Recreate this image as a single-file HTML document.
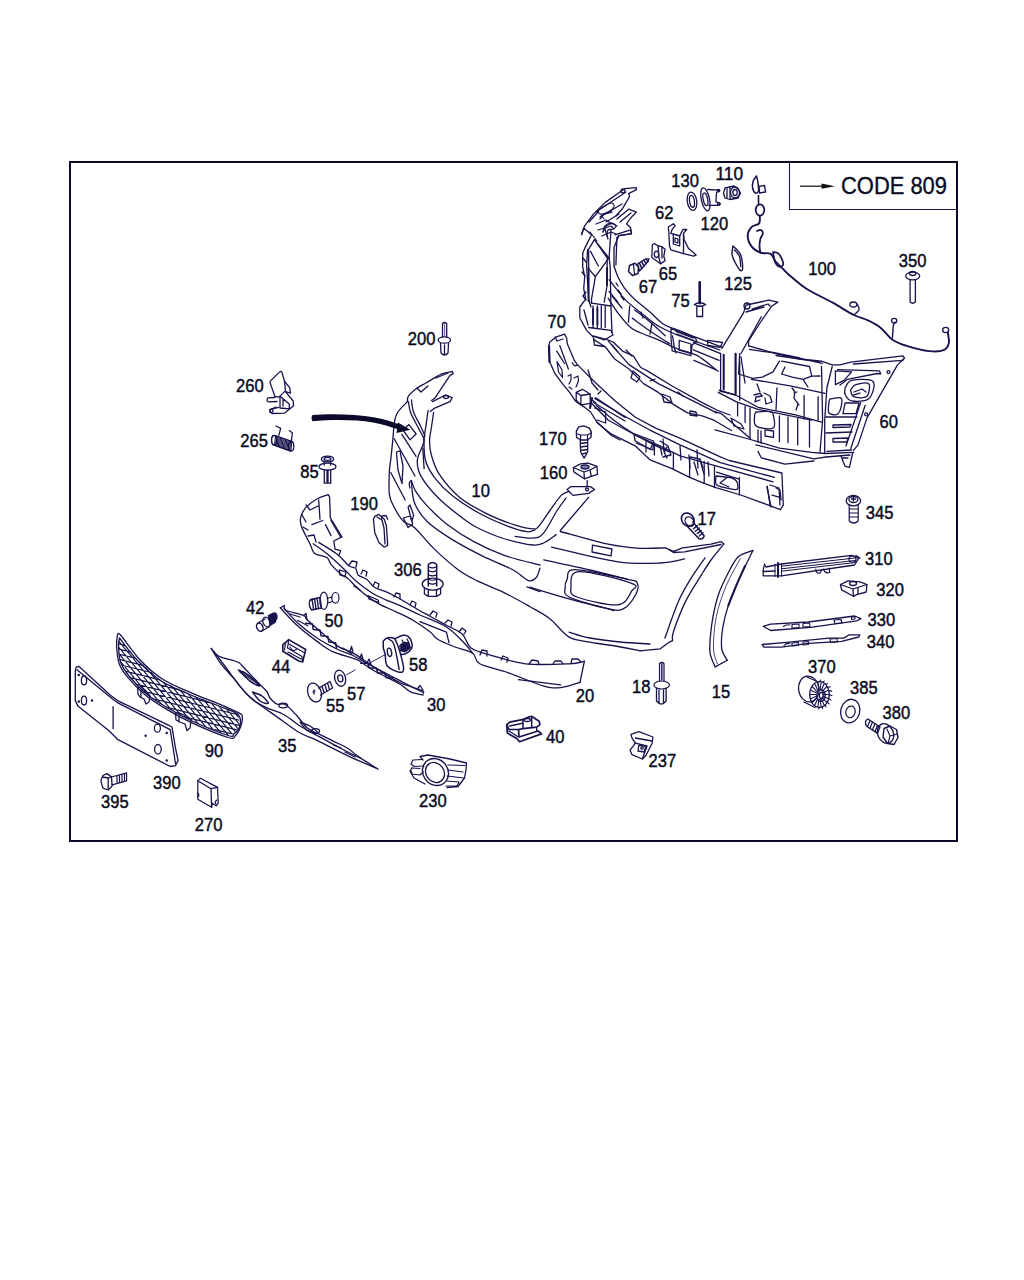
<!DOCTYPE html>
<html><head><meta charset="utf-8"><style>
html,body{margin:0;padding:0;background:#fff;width:1024px;height:1280px;overflow:hidden}
svg{position:absolute;left:0;top:0}
</style></head><body>
<svg width="1024" height="1280" viewBox="0 0 1024 1280">
<rect x="70" y="162" width="887" height="679" fill="none" stroke="#0c0a2a" stroke-width="2"/>
<path d="M789.5 162 V209.5 H957" fill="none" stroke="#1a1850" stroke-width="1.1"/>
<path d="M800 186.2 H826" stroke="#111" stroke-width="1.2"/>
<path d="M821.5 183.6 L835 186.2 L821.5 188.8 Z" fill="#111"/>
<text x="841" y="194" font-family="Liberation Sans" font-size="23.5" fill="#0a0a22" stroke="#0a0a22" stroke-width="0.35" textLength="106" lengthAdjust="spacingAndGlyphs">CODE 809</text>
<g fill="none" stroke="#17134c" stroke-width="1.3" stroke-linejoin="round" stroke-linecap="round">
<!-- bumper 10 -->
<path d="M407.4,401.6 C407.6,400.7 406.8,398.4 408.4,396.1 C410.0,393.8 414.3,390.1 417.2,387.9 C420.1,385.7 422.0,385.3 426.0,383.0 C430.0,380.7 436.9,376.1 441.3,374.2 C445.7,372.3 450.4,371.9 452.2,371.5"/>
<path d="M452.2,371.5 L453.3,373.7 L450,375.3 L434.7,398.3 L431.4,400.5"/>
<path d="M417,388 L421,392 L428,386 M436,378 L448,373"/>
<path d="M432.5,401.6 L445.6,395 L452.2,397.7 L450,401.6 L434.7,408.1 L430.3,411.4"/>
<ellipse cx="446" cy="397" rx="2.5" ry="1.5"/>
<path d="M407.4,401.6 C405.8,403.4 399.7,408.9 397.5,412.5 C395.3,416.1 394.9,419.5 394.2,423.5 C393.5,427.5 393.7,430.8 393.1,436.6 C392.6,442.4 391.5,452.7 390.9,458.5 C390.3,464.3 389.6,465.3 389.4,471.3 C389.1,477.3 388.6,488.7 389.4,494.7 C390.2,500.7 391.8,502.8 394.1,507.2 C396.4,511.6 400.0,517.9 403.4,521.3 C406.8,524.7 409.2,522.8 414.4,527.5 C419.6,532.2 427.4,542.4 434.7,549.4 C442.0,556.4 451.1,564.5 458.1,569.7 C465.1,574.9 469.1,576.7 476.9,580.6 C484.7,584.5 496.1,588.8 505.0,593.1 C513.9,597.5 522.6,602.5 530.0,606.7 C537.4,610.9 543.6,613.9 549.5,618.4 C555.4,622.9 560.6,630.4 565.2,634.0 C569.8,637.6 568.1,637.8 576.9,639.9 C585.7,642.0 607.4,644.7 617.9,646.5 C628.4,648.3 636.3,650.1 640.0,650.8"/>
<path d="M569.1,632.1 C572.6,633.1 581.5,636.4 590.0,638.0 C598.5,639.6 610.0,641.0 620.0,642.0 C630.0,643.0 645.0,643.7 650.0,644.0"/>
<path d="M408.4,401.6 C408.8,403.4 409.0,408.1 410.6,412.5 C412.2,416.9 416.1,423.4 418.3,427.8 C420.5,432.2 423.1,435.9 423.8,438.8 C424.6,441.8 423.0,444.4 422.8,445.5"/>
<path d="M411.5,400.0 C411.8,402.0 411.9,407.5 413.5,412.0 C415.1,416.5 419.1,423.0 421.0,427.0 C422.9,431.0 424.3,434.5 425.0,436.0"/>
<path d="M403,430 L409,424.6 L416.1,434 L410,439.9 Z"/>
<path d="M401.9,434.4 L416.1,456.3 M394.2,438.8 L415,476 M390.9,472.7 L405.2,500"/>
<path d="M396.4,452 L400,450.8 L403,466 L402,483.6 L398,470 Z"/>
<path d="M422.8,448.2 L424.1,468.7"/>
<path d="M433.6,412.5 C433.2,415.4 431.7,425.4 431.0,430.0 C430.3,434.6 429.6,436.1 429.6,440.0 C429.6,443.9 429.4,448.0 431.0,453.7 C432.6,459.4 434.4,466.9 439.2,474.2 C444.0,481.5 451.7,490.8 459.7,497.4 C467.7,504.0 477.9,509.2 487.0,513.8 C496.1,518.4 506.8,522.3 514.4,524.8 C522.0,527.3 528.7,528.5 532.7,528.8 C536.7,529.1 535.7,529.5 538.6,526.4 C541.5,523.3 546.5,515.2 550.3,510.0 C554.1,504.8 558.1,498.5 561.2,495.4 C564.3,492.3 567.8,492.1 569.1,491.5"/>
<path d="M428.1,410.3 C427.8,412.9 426.7,420.7 426.0,425.6 C425.3,430.6 424.2,434.2 424.1,440.0 C424.0,445.8 423.7,454.1 425.5,460.5 C427.3,466.9 430.6,472.4 435.1,478.3 C439.7,484.2 445.3,490.1 452.8,496.0 C460.3,501.9 471.1,508.8 480.2,513.8 C489.3,518.8 499.7,523.1 507.5,526.1 C515.3,529.1 522.3,531.1 526.9,531.7 C531.5,532.3 533.7,530.2 535.1,529.9"/>
<path d="M515.2,536.4 C518.1,536.7 528.0,538.6 532.7,538.1 C537.4,537.6 539.2,538.1 543.3,533.4 C547.4,528.7 553.6,515.9 557.4,510.0 C561.2,504.1 564.6,500.0 566.0,498.0"/>
<path d="M422.8,445.5 C421.9,448.0 417.5,455.3 417.3,460.5 C417.1,465.7 417.8,470.5 421.4,476.9 C425.0,483.3 431.7,491.4 439.2,498.8 C446.7,506.2 459.7,516.0 466.5,521.0 C473.3,526.0 473.9,526.1 480.0,529.0 C486.1,531.9 494.6,535.8 503.4,538.5 C512.2,541.2 525.9,544.3 532.7,545.0 C539.6,545.7 540.6,544.2 544.5,542.5 C548.4,540.8 554.2,535.9 556.2,534.6"/>
<path d="M567.1,489.5 L571,486.6 L590.5,486.6 L594.5,489.5 L588.6,493.4 L573,495.4 Z"/>
<circle cx="587" cy="489.5" r="1.5"/>
<path d="M588.6,497.3 L560.3,530.5"/>
<path d="M411.3,480.6 C411.8,484.2 411.8,495.7 414.4,502.5 C417.0,509.3 420.9,515.3 426.9,521.3 C432.9,527.3 441.2,532.7 450.3,538.4 C459.4,544.1 471.2,550.4 481.6,555.6 C492.0,560.8 505.0,565.5 512.8,569.7 C520.6,573.9 524.5,579.3 528.4,580.6 C532.3,581.9 534.4,579.6 536.3,577.5 C538.2,575.4 539.4,569.7 540.0,568.1"/>
<path d="M411.3,480.6 C412.1,482.4 413.3,487.4 415.9,491.6 C418.5,495.8 421.7,500.1 426.9,505.6 C432.1,511.1 439.4,518.4 447.2,524.4 C455.0,530.4 464.2,536.4 473.8,541.6 C483.4,546.8 494.0,551.7 505.0,555.6 C516.0,559.5 534.2,563.4 540.0,565.0"/>
<path d="M411.3,480.6 Q408,482 410,488"/>
<path d="M408.1,507.2 L410,505 L413.6,515 L412,521.3 Z M403.4,518 L410,516 L412.8,524 L408,527.5 Z"/>
<path d="M560.3,531.5 C568.3,533.6 594.8,541.4 608.1,544.2 C621.4,547.0 630.5,547.7 640.0,548.3 C649.5,548.9 661.2,547.9 665.4,547.8"/>
<path d="M665.4,547.8 L673.5,551.3 L682.6,547.8 L711,544.2 L721.2,541.7 L723.8,543.9 M665.4,547.8 L673.5,552.5 L684.7,551.8 L721,544.5"/>
<path d="M723.8,543.9 C721.7,546.6 714.8,554.7 711.0,560.0 C707.2,565.3 705.1,568.9 700.9,575.7 C696.7,582.6 690.3,591.8 685.7,601.1 C681.1,610.4 675.7,624.9 673.5,631.5 C671.3,638.1 672.7,639.1 672.5,640.6"/>
<path d="M672.5,640.6 L668.4,642.7 L660.3,648.8 L640,650.8"/>

<path d="M551.5,547.1 C562.6,549.5 599.8,559.1 617.9,561.8 C636.0,564.4 649.2,563.5 660.3,563.0 C671.4,562.5 680.6,559.6 684.7,558.9"/>
<path d="M705.0,557.9 C702.6,561.4 695.2,571.5 690.8,578.7 C686.4,585.9 682.9,591.2 678.6,601.1 C674.3,611.0 667.2,631.9 664.9,638.1"/>
<path d="M592.5,545.2 L612,549 L611,555.9 L592,552 Z"/>
<path d="M543.7,559.8 C551.4,561.5 576.0,566.7 590.0,570.0 C604.0,573.3 621.3,577.8 627.6,579.4"/>
<path d="M567.1,579.4 C568.7,576.5 564.8,569.6 574.9,569.6 C585.0,569.6 617.2,577.1 627.6,579.4 C638.0,581.7 636.1,580.7 637.4,583.3 C638.7,585.9 637.8,590.8 635.5,595.0 C633.2,599.2 628.3,606.4 623.7,608.7 C619.1,611.0 617.2,610.7 608.1,608.7 C599.0,606.8 576.2,600.6 569.1,597.0 C562.0,593.4 565.5,590.1 565.2,587.2 C564.9,584.3 565.5,582.3 567.1,579.4Z"/>
<path d="M571.0,587.2 C571.3,583.0 568.7,572.2 578.8,571.6 C588.9,571.0 622.8,580.0 631.6,583.3 C640.4,586.5 633.9,587.5 631.6,591.1 C629.3,594.7 627.0,603.8 617.9,604.8 C608.8,605.8 584.7,599.9 576.9,597.0 C569.1,594.1 570.7,591.4 571.0,587.2Z"/>
<path d="M530.0,587.2 C536.5,589.2 555.1,595.0 569.1,598.9 C583.1,602.8 606.5,608.6 614.0,610.6"/>
<path d="M526.9,586.9 L540,591.6"/>

<!-- strip 15 -->
<path d="M752.9,550.4 C750.4,551.5 742.2,553.3 738.1,557.0 C734.0,560.7 731.6,566.5 728.3,572.8 C725.0,579.1 720.9,587.4 718.4,594.7 C715.9,602.0 714.4,609.3 713.0,616.6 C711.6,623.9 710.7,632.3 710.2,638.5 C709.7,644.7 709.4,649.1 710.2,653.8 C711.0,658.5 714.4,664.7 715.2,666.9"/>
<path d="M715.2,666.9 L727.2,660.3"/>
<path d="M727.2,660.3 C726.3,658.3 722.4,653.8 721.7,648.3 C721.0,642.8 721.7,634.6 722.8,627.5 C723.9,620.4 725.9,612.9 728.3,605.6 C730.7,598.3 732.9,593.0 737.0,583.8 C741.1,574.6 750.2,556.0 752.9,550.4"/>
<path d="M740.3,558.6 C737.9,563.2 730.1,576.3 726.1,586.0 C722.1,595.7 718.4,606.2 716.3,616.6 C714.2,627.0 713.3,640.5 713.5,648.3 C713.7,656.1 716.7,661.0 717.3,663.6" stroke-width="0.8"/>
<path d="M728.3,605.6 C729.8,602.0 734.2,590.4 737.0,583.8 C739.8,577.2 743.7,569.0 745.0,566.0" stroke-width="2"/>
<!-- wire 100 -->
<path d="M756.5,176.0 C756.0,176.8 753.9,179.0 753.2,181.0 C752.6,183.0 752.2,186.0 752.6,188.0 C753.0,190.0 754.5,192.5 755.5,193.0 C756.5,193.5 758.1,192.7 758.5,191.0 C758.9,189.3 758.3,185.5 758.0,183.0 C757.7,180.5 756.8,177.2 756.5,176.0" stroke-width="1.5"/>
<path d="M759,186.5 L764.5,185.5 L765.5,192 L759.5,193 Z" stroke-width="1.4"/>
<path d="M758.5,195.5 L758.5,204.4" stroke-width="1.6"/>
<ellipse cx="760" cy="210" rx="4.3" ry="5.7" stroke-width="1.8"/>
<path d="M759.8,215.8 C759.7,217.1 760.5,221.5 759.1,223.4 C757.7,225.3 753.4,225.1 751.5,227.2 C749.6,229.3 747.7,232.9 747.7,236.1 C747.7,239.3 749.4,243.6 751.5,246.3 C753.6,249.1 757.2,251.3 760.4,252.6 C763.6,253.9 768.1,252.4 770.6,253.9 C773.1,255.4 773.7,259.2 775.6,261.5 C777.5,263.8 779.9,265.8 782.0,267.9 C784.1,270.0 784.2,270.7 788.3,274.2 C792.4,277.7 799.0,283.9 806.4,288.7 C813.8,293.4 824.8,298.3 832.7,302.7 C840.6,307.1 847.9,312.1 853.8,315.0 C859.7,317.9 863.5,318.2 867.9,320.3 C872.3,322.4 876.1,324.2 880.2,327.4 C884.3,330.6 888.1,336.6 892.5,339.7 C896.9,342.8 900.5,343.9 906.6,345.8 C912.8,347.7 923.2,350.4 929.4,351.1 C935.5,351.8 940.3,351.5 943.5,350.2 C946.7,348.9 948.1,346.1 948.8,343.2 C949.5,340.3 948.0,334.4 947.9,332.6" stroke-width="1.9"/>
<path d="M757.0,231.0 C757.7,230.8 760.0,229.5 761.0,230.0 C762.0,230.5 762.9,232.6 762.8,234.0 C762.7,235.4 760.9,236.7 760.4,238.7 C759.9,240.7 759.5,243.7 759.5,246.0 C759.5,248.3 760.2,251.5 760.4,252.6" stroke-width="1.8"/>
<path d="M773.1,252.0 C774.1,252.3 777.3,252.0 779.0,254.0 C780.7,256.0 783.3,261.9 783.3,264.0 C783.3,266.1 780.4,266.9 779.0,266.6 C777.6,266.3 776.0,264.4 775.0,262.0 C774.0,259.6 773.4,253.7 773.1,252.0" stroke-width="1.7"/>
<path d="M853.8,315.0 C854.7,314.1 858.5,311.6 859.1,309.8 C859.7,308.1 857.7,305.4 857.4,304.5" stroke-width="1.4"/>
<ellipse cx="853.4" cy="304.5" rx="3.5" ry="2.5"/>
<path d="M892.5,337.9 C892.6,335.8 893.0,328.2 893.4,325.6 C893.8,323.0 894.8,322.7 895.1,322.1" stroke-width="1.4"/>
<ellipse cx="894.2" cy="320.8" rx="2.6" ry="2.4"/>
<ellipse cx="945.7" cy="330" rx="3" ry="2.6"/>
<!-- bolt 350 -->
<ellipse cx="912.7" cy="276" rx="7" ry="3.9"/>
<ellipse cx="912.7" cy="273.5" rx="3.2" ry="2"/>
<path d="M910.1,279.9 V302 Q912.7,304.5 915.4,302 V279.9"/>
<!-- 130 washer -->
<ellipse cx="692" cy="201.3" rx="4.75" ry="9.2" transform="rotate(-8 692 201.3)"/>
<ellipse cx="692" cy="201.3" rx="2.4" ry="6" transform="rotate(-8 692 201.3)"/>
<!-- 120 -->
<ellipse cx="705.4" cy="199.3" rx="4.1" ry="11.7" transform="rotate(-12 705.4 199.3)"/>
<ellipse cx="705.4" cy="199.3" rx="2.2" ry="6.4" transform="rotate(-12 705.4 199.3)"/>
<path d="M707.6,189.5 L719,190.2 L716.5,192.7 L715.9,201.6 L720.3,203.5 L718.4,205.4 L708.9,205.4"/>
<circle cx="718.5" cy="190.6" r="1.3"/><circle cx="718.7" cy="204" r="1.3"/>
<!-- 110 sensor -->
<path d="M725,188 L734,186 L738,189 L740.5,193 L738,198 L730,199.5 L725,198 L723.5,193 Z"/>
<ellipse cx="735" cy="192.5" rx="4.5" ry="5.5"/>
<ellipse cx="735" cy="192.5" rx="2.2" ry="3"/>
<path d="M727,189 V198 M730,188 V199"/>
<!-- 62 bracket -->
<path d="M668.3,227 L673.3,223.8 L675.2,225.7 L672.1,229.5 L670.8,233.3 L679.7,235.9 L682.9,229.5 L686.7,229.5 L683.5,233.3 L684.1,239.7 L688.6,248.6 L696.2,254.9 L693.7,256.2 L683.5,253.7 L670.8,249.9 L669.5,246 L668.9,233.3 Z"/>
<path d="M673.3,234 L679.7,236 L679.7,246 L673.3,244 Z M675,238 L678,239 L678,243 L675,242 Z M683.5,233.3 L683.5,253.7"/>
<!-- 65 clip -->
<path d="M652.4,244.8 L654.3,243.5 L658.1,246 L661.9,246.7 L665.1,249.2 L663.8,256.2 L665.1,260.6 L660.6,263.8 L651.8,257.5 Z"/>
<ellipse cx="656.5" cy="254.3" rx="2.2" ry="3.2"/>
<path d="M658.1,246 L659,258 L660.6,263.8 M661.9,246.7 L662,258"/>
<!-- 67 screw -->
<path d="M629.5,265.5 L635,263.2 L638.5,267 L638,273.5 L632.5,275.5 L628.5,271.5 Z" stroke-width="1.5"/>
<path d="M633.5,264.5 L634.5,274.5" stroke-width="1.2"/>
<path d="M637.5,264 L646,258.8 L649,258.8 L648,261.5 L639.5,271 Z" stroke-width="1.3"/>
<path d="M639.3,262.8 L641.8,268.6 M641.6,261.4 L643.9,266.3 M643.9,260 L646,263.8 M646.2,259 L647.8,261.8" stroke-width="1.5"/>
<!-- 125 -->
<path d="M733.0,246.0 C734.3,247.5 739.1,251.1 740.7,254.9 C742.3,258.7 742.8,266.5 742.6,268.9 C742.4,271.3 741.1,271.6 739.4,269.5 C737.7,267.4 733.5,260.1 732.4,256.2 C731.3,252.3 732.9,247.7 733.0,246.0" stroke-width="1.4"/>
<path d="M734.5,250.0 C735.3,251.0 738.2,253.2 739.3,256.0 C740.3,258.8 740.5,264.8 740.8,266.5"/>
<!-- 75 rivet -->
<path d="M699.7,282.2 V303.2" stroke-width="2.6"/>
<path d="M694.3,304.5 Q700,301 705.7,304.5 Q700,308 694.3,304.5 Z M696.8,307 V316.5 H702.6 V307"/>

<!-- spoiler 20 -->
<path d="M328.3,494.6 C326.5,495.3 321.0,496.6 317.3,498.7 C313.6,500.8 309.1,503.9 306.4,506.9 C303.7,509.8 301.8,513.4 300.9,516.4 C300.0,519.4 300.2,521.6 300.9,524.6 C301.6,527.6 303.4,530.8 305.0,534.2 C306.6,537.6 308.9,541.9 310.5,545.1 C312.1,548.3 311.9,551.3 314.6,553.4 C317.3,555.5 324.2,555.7 326.9,557.5 C329.6,559.3 328.7,561.6 331.0,564.3 C333.3,567.0 337.9,571.6 340.6,573.9 C343.3,576.2 344.9,576.0 347.4,578.0 C349.9,580.0 352.4,583.2 355.6,586.2 C358.8,589.2 362.7,592.8 366.6,595.7 C370.5,598.7 373.9,601.2 378.9,603.9 C383.9,606.6 390.9,609.4 396.6,612.1 C402.3,614.8 407.4,616.9 413.0,620.3 C418.6,623.6 426.4,629.1 430.5,632.2 C434.6,635.4 433.5,636.7 437.6,639.2 C441.7,641.7 449.1,644.6 455.0,647.0 C460.9,649.4 468.6,650.5 472.7,653.3 C476.8,656.1 473.9,660.6 479.8,663.8 C485.7,667.0 497.3,668.9 507.9,672.6 C518.4,676.3 534.3,683.3 543.1,685.8 C551.9,688.3 554.5,688.2 560.6,687.6 C566.8,687.0 576.8,683.2 580.0,682.3"/>
<path d="M328.3,494.6 L329.6,497.3 L330.3,517.8 L341.9,536.9 L333.7,541 L335.1,549.2 L340.6,550.6 L339.2,554.7"/>
<path d="M318.7,542.4 C321.9,544.5 332.8,550.8 337.8,554.7 C342.8,558.6 345.8,563.4 348.8,565.7 C351.8,568.0 354.0,566.8 355.6,568.4 C357.2,570.0 356.5,573.4 358.3,575.2 C360.1,577.0 363.9,577.2 366.6,579.3 C369.4,581.3 371.6,585.5 374.8,587.5 C378.0,589.5 381.6,589.8 385.7,591.6 C389.8,593.4 394.8,596.0 399.4,598.5 C403.9,601.0 407.9,603.8 413.0,606.7 C418.1,609.7 424.4,613.1 430.0,616.2 C435.6,619.3 441.0,622.2 446.4,625.2 C451.8,628.2 458.1,630.2 462.2,634.0 C466.3,637.8 466.3,644.5 471.0,648.0 C475.7,651.5 481.2,652.4 490.3,655.0 C499.4,657.6 512.3,662.3 525.5,663.8 C538.7,665.3 559.6,664.2 569.4,663.8 C579.2,663.4 581.9,661.6 584.4,661.2"/>
<path d="M584.4,661.2 L580,682.3"/>
<path d="M313.2,543.8 C315.7,545.6 323.1,550.4 328.3,554.7 C333.6,559.0 340.1,565.5 344.7,569.8 C349.2,574.1 351.1,576.8 355.6,580.7 C360.2,584.6 367.0,589.8 372.0,593.0 C377.0,596.2 381.1,597.8 385.7,599.8 C390.3,601.8 393.7,602.8 399.4,605.3 C405.1,607.8 412.2,611.4 420.0,615.0 C427.8,618.6 439.1,622.4 446.4,627.0 C453.7,631.6 459.5,638.3 463.9,642.7 C468.3,647.1 471.2,651.5 472.7,653.3"/>
<path d="M420,621.6 L446.4,632.2 M446.4,632.2 L449,642.7 M518.4,679.7 L560.6,684.9"/>
<path d="M318.7,500 L320,519.2 M311.9,524.6 L322.8,520.5 M325.5,524.6 L331,535.6 M331,520.5 L340.6,537 M306,505 L310,510 L318,506 M302,515 L306,522 M303,527 L308,530 M308,536 L314,535 L316,542"/>
<path d="M349,565 L352,561 L357,562 L356,567 M361,574 L363,570 L367,572 L366,576 M373,586 L375,582 L379,584 L378,588 M394,597 L396,593 L400,594 L400,599 M410,605 L412,601 L416,603 L415,607 M430,615 L433,611 L437,613 L436,617 M445,623 L448,620 L452,622 L451,626 M459,632 L462,628 L466,631 L464,634"/>
<path d="M480,655 L482,650 L487,651 L487,656 M501,660 L503,656 L508,658 L507,662 M529,664 L532,660 L538,661 L539,664 M553,664 L555,661 L561,661 L563,664 M571,663 L572,659 L578,659 L581,662"/>
<path d="M339.2,569.8 L346,572 L345,576.6 L340,575 Z M367.9,595.7 L378,600 L378.9,602.6 L369,599 Z M354,586 L360,590"/>
<!-- cover 190 -->
<path d="M374.8,516.4 L378.9,514.4 L384.3,519.2 L386.4,526 L387.7,545.1 L384.3,547.2 L378.9,542.4 L374.8,532.8 L373.4,519.2 Z"/>
<path d="M377,517 L382,520 L384,528 L385,544 M381.6,519 L382,515.8 L386,515.5 L387.7,519.2"/>

<!-- strip 30 -->
<path d="M280.3,607.8 C283.2,610.8 291.4,620.2 297.5,625.8 C303.6,631.4 311.2,637.1 317.1,641.4 C323.0,645.7 326.2,648.6 332.7,651.6 C339.2,654.6 350.9,657.3 356.1,659.4 C361.3,661.5 360.4,661.9 363.8,664.0 C367.2,666.1 370.3,668.7 376.3,672.0 C382.3,675.3 394.0,680.7 399.7,684.0 C405.4,687.3 406.7,690.1 410.6,691.9 C414.5,693.7 421.0,694.5 423.1,695.0"/>
<path d="M284.3,608.6 C286.6,611.1 292.6,618.3 298.3,623.4 C304.0,628.5 311.8,634.6 318.6,639.0 C325.4,643.4 333.3,647.3 338.9,650.0 C344.5,652.7 346.8,652.5 352.0,655.0 C357.2,657.5 362.8,661.2 370.0,665.0 C377.2,668.8 387.5,674.1 395.0,678.0 C402.5,681.9 410.5,686.2 415.0,688.5 C419.5,690.8 420.8,691.4 422.0,692.0"/>
<path d="M284.3,605.5 C284.6,606.3 282.6,608.5 285.8,610.2 C289.1,611.9 300.3,614.1 303.8,615.6 C307.3,617.1 303.9,616.6 306.9,619.5 C309.9,622.4 316.5,628.2 321.8,632.8 C327.1,637.4 334.1,643.8 338.9,646.9 C343.7,650.0 346.5,649.4 350.7,651.6 C354.9,653.8 359.5,657.2 363.8,660.0 C368.1,662.8 370.3,664.6 376.3,668.4 C382.3,672.1 392.1,678.9 399.7,682.5 C407.2,686.1 417.7,688.5 421.6,690.3 C425.5,692.1 422.9,692.9 423.1,693.4"/>
<path d="M280.3,607.8 L284.3,605.5 M303.8,615.6 L306.1,613.5 L306.9,619.5 M350,652 L351.5,646.5 L353,652 M360,658 L361.5,654 L363,659.5 M367,663 L369,659 L371,664.5 M418,688 L420,685.5 L423,690"/>
<path d="M305.5,623.2 L312.4,623.9 L313.2,629.5 L320.1,630.2 L321.0,635.7 L327.9,636.4 L328.8,642.0 L335.6,642.7 L336.5,648.2" stroke-width="1.5"/>
<path d="M360.7,663.2 L367.6,663.2 L369.3,668.1 L376.2,668.1 L377.8,672.9 L384.7,672.9 L386.4,677.8 L393.3,677.8" stroke-width="1.5"/>
<path d="M297.5,620.3 L307.7,625.8 M290,614 L300,617 M343,648 L352,654" stroke-width="1.2"/>
<!-- strip 35 -->
<path d="M211.2,648.4 C212.4,649.6 213.8,653.5 218.2,655.8 C222.6,658.1 233.6,660.4 237.5,662.0 C241.4,663.6 238.5,662.1 241.9,665.5 C245.3,668.9 253.6,678.0 257.7,682.2 C261.8,686.5 264.4,688.4 266.5,691.0 C268.6,693.6 268.2,695.8 270.0,698.0 C271.8,700.2 274.6,703.1 277.1,704.2 C279.7,705.3 282.1,702.6 285.3,704.5 C288.5,706.4 292.8,711.3 296.5,715.3 C300.2,719.3 303.9,725.2 307.6,728.3 C311.3,731.4 314.4,731.7 318.7,733.9 C323.0,736.1 328.7,738.8 333.6,741.3 C338.6,743.8 344.4,746.2 348.4,748.7 C352.4,751.2 352.8,752.7 357.7,756.1 C362.6,759.5 374.7,766.9 378.1,769.1"/>
<path d="M211.2,648.4 C212.8,651.0 217.0,658.7 220.8,663.7 C224.6,668.8 229.6,673.6 234.0,678.7 C238.4,683.8 243.2,690.4 247.2,694.5 C251.1,698.6 253.0,699.8 257.7,703.3 C262.4,706.8 268.5,710.8 275.3,715.6 C282.1,720.4 291.7,728.0 298.3,732.0 C304.9,736.0 309.7,736.9 315.0,739.4 C320.3,741.9 324.3,744.1 329.9,746.9 C335.5,749.7 340.7,752.5 348.4,756.1 C356.1,759.7 371.6,766.2 376.2,768.2"/>
<path d="M213.8,651.4 C216.0,654.3 222.6,663.1 227.0,669.0 C231.4,674.9 235.7,681.3 240.2,686.6 C244.7,691.9 249.8,697.2 254.2,700.7 C258.6,704.2 261.5,705.4 266.5,707.7 C271.5,710.0 278.5,711.7 284.1,714.7 C289.7,717.8 294.4,722.5 300.0,726.0 C305.6,729.5 311.3,732.3 318.0,736.0 C324.7,739.7 333.0,744.3 340.0,748.0 C347.0,751.7 356.7,756.3 360.0,758.0"/>
<path d="M238.4,670.0 C240.0,670.8 244.5,672.4 248.0,675.0 C251.5,677.6 259.2,684.7 259.5,685.7 C259.8,686.7 253.5,683.6 250.0,681.0 C246.5,678.4 240.3,671.8 238.4,670.0" stroke-width="1.6"/>
<path d="M240,672 L257,683 M243,671.5 L252,678" stroke-width="1.1"/>
<path d="M252.5,692.0 C254.1,692.7 259.4,694.1 262.0,696.0 C264.6,697.9 268.6,702.5 268.3,703.3 C268.0,704.1 262.6,702.9 260.0,701.0 C257.4,699.1 253.8,693.5 252.5,692.0" stroke-width="1.5"/>
<ellipse cx="283.2" cy="705.5" rx="4.4" ry="2.3"/>
<path d="M300.0,722.0 C301.7,722.7 307.0,724.2 310.0,726.0 C313.0,727.8 318.3,732.2 318.0,733.0 C317.7,733.8 311.0,732.8 308.0,731.0 C305.0,729.2 301.3,723.5 300.0,722.0" stroke-width="1.3"/>
<ellipse cx="315.5" cy="731" rx="4" ry="2.4"/>
<path d="M333.6,745 L341,748 M345,752 L355,757"/>

<!-- 200 rivet -->
<path d="M442.5,337 V323.5 Q444.6,321.5 446.7,323.5 V337"/>
<path d="M444.6,324 V336" stroke-width="0.7"/>
<ellipse cx="444.3" cy="340" rx="6.2" ry="3.2"/>
<path d="M440.5,343.5 L441,353 Q444.5,357 448,353 L448.5,343.5 M444.5,345 V355"/>
<!-- 260 clip -->
<path d="M270.2,381.1 L280.3,371.4 L281.9,372.1 L284.6,381.5 L285.4,390.9 L278.8,397.1 L274.9,396.3 L270.2,383.1 Z"/>
<path d="M284.6,381.5 L289.7,387.7 L290.5,393.2 L285.4,391.6"/>
<path d="M285.4,391.6 L293.2,401 L293.6,405.7 L284.6,413.1 L272.1,413.5 L269.8,412 L269.8,409.6 L274.5,408.4 L278.8,407.3"/>
<path d="M280,396.3 L289.3,404 L289.3,408.8 L280,408 Z M283,399 L283,406"/>
<path d="M274.9,397.5 L267.9,397.9 Q266,400.5 268.2,401.8 L277,401.5 M271.4,409 L276,407"/>
<circle cx="271.4" cy="410.8" r="1.6"/>
<!-- 265 spring -->
<path d="M275.3,435.7 L292.4,441.6 M273,444.7 L290.1,450.9"/>
<ellipse cx="274.2" cy="440.2" rx="2.6" ry="4.6" stroke-width="1.5"/>
<ellipse cx="291.2" cy="446.3" rx="2.6" ry="4.8"/>
<path d="M275.50,436.30 L274.50,445.50 M276.75,436.75 L275.75,445.95 M278.00,437.20 L277.00,446.40 M279.25,437.65 L278.25,446.85 M280.50,438.10 L279.50,447.30 M281.75,438.55 L280.75,447.75 M283.00,439.00 L282.00,448.20 M284.25,439.45 L283.25,448.65 M285.50,439.90 L284.50,449.10 M286.75,440.35 L285.75,449.55 M288.00,440.80 L287.00,450.00 M289.25,441.25 L288.25,450.45 M290.50,441.70 L289.50,450.90 M291.75,442.15 L290.75,451.35" stroke-width="1.05"/>
<path d="M276,426 L280.7,428.3 L278.8,435.3 M289.3,430.6 L292.4,433 L291.2,441.6"/>
<!-- arrow -->
<path d="M312.5,415 C330,413.8 355,414 375,417.5 C385,419.5 393,422 400,424.5 L399,429.5 C391,427 383,424.5 373,422.5 C355,419.5 332,419.6 312.5,421.2 Q310.5,418 312.5,415 Z" fill="#0c0a2a" stroke="none"/>
<path d="M398,422.5 L410.3,429.8 L396.5,433 Z" fill="#0c0a2a" stroke="none"/>
<!-- 85 rivet -->
<ellipse cx="327.5" cy="459.1" rx="6.1" ry="2.9"/>
<ellipse cx="327.5" cy="458.8" rx="3.5" ry="1.5"/>
<path d="M324.3,461 V465 M330.7,461 V465"/>
<ellipse cx="327.5" cy="466.7" rx="8.5" ry="3.5"/>
<path d="M324.3,470.2 V483.2 H327 V470.2 M330.7,470.2 V483.2 H328 V470.2" stroke-width="1.3"/>
<!-- 170 bolt -->
<path d="M576.3,431.3 L578.8,426.9 L583.8,425.9 L589.4,428.1 L591.3,431.9 L590.9,437.5 L586.9,440 L580.6,440 L576.6,437.5 Z" stroke-width="1.4"/>
<path d="M576.9,433.8 L580.6,435 L587.5,435 L590.9,433.1 M580.6,435 V440 M587.5,435 V440" stroke-width="1.2"/>
<path d="M580.2,440 L580.6,452 L584.1,458.1 L587.6,452 L587.8,440 M580.4,443.5 L587.6,442.5 M580.5,447 L587.6,446 M580.6,450.5 L587.6,449.5 M581.5,454 L586.5,453" stroke-width="1.3"/>
<!-- 160 clip -->
<path d="M573.4,467.5 L580.6,463.8 L588.1,463.1 L596.9,466.3 L597.5,474.4 L591.3,476.3 L584.4,478.8 L573.8,471.9 Z" stroke-width="1.3"/>
<path d="M573.4,467.5 L584,472 L590,470 L596.9,466.3 M584,472 L584.4,478.8 M590,470 L591.3,476.3" />
<ellipse cx="585" cy="467" rx="4" ry="2" fill="#23207a" fill-opacity="0.6"/>
<path d="M587.2,480.6 V486.3"/>
<!-- 17 bolt -->
<ellipse cx="687.8" cy="519.6" rx="5.9" ry="7" transform="rotate(-40 687.8 519.6)" stroke-width="1.6"/>
<ellipse cx="689.6" cy="521.6" rx="4" ry="5.2" transform="rotate(-40 689.6 521.6)" stroke-width="1.3"/>
<path d="M686.8,525.8 L699,538.8 Q702.8,540 704.2,536 L692.8,521.8" stroke-width="1.5"/>
<path d="M693.5,528.8 L697.4,525.6 M695.4,531.2 L699.3,528 M697.3,533.6 L701.2,530.4 M699.2,536 L703,532.8" stroke-width="1.4"/>
<!-- 345 bolt -->
<ellipse cx="853.4" cy="500.7" rx="7.2" ry="5.2" stroke-width="1.3"/>
<ellipse cx="853.4" cy="499.5" rx="4.5" ry="3"/>
<path d="M851.5,499 H855.5 M853.4,497.5 V501" />
<path d="M849.2,505 V521 Q853.6,525 858.2,521 V505 M849.3,509 H858.2 M849.3,513 H858.2 M849.3,517 H858.2" stroke-width="1.2"/>
<!-- 310 -->
<path d="M764.3,564 L766,567 L781.5,564 L851.3,555.4 L858.8,558.1 L854.5,565 L781.5,575.8 L763.2,575.8 L763.2,571.5 L775,571 M763,571.5 L764,566"/>
<path d="M781.5,566.2 L855,558 M781.5,568.8 L855,560.5 M781.5,571.2 L855,562.5 M775,564 V576.5 M781.5,564 V576" stroke-width="1.0"/>
<path d="M778,563 V577" stroke-width="2"/>
<path d="M815.8,569 Q816,574 820,573 L822,569.5 M823.5,569 Q825,574 829.8,572.5 L829,568" stroke-width="1.2"/>
<ellipse cx="852.5" cy="559" rx="3.5" ry="3.2"/>
<path d="M856,555.5 L860,558"/>
<!-- 320 clip -->
<path d="M840.5,584.5 L848.1,580.8 L859.9,581.8 L866.9,584.5 L866.3,592 L856.7,594.7 L853.4,596.3 L841.6,589.9 Z" stroke-width="1.3"/>
<path d="M840.5,584.5 L853,589 L866.9,584.5 M853,589 L853.4,596.3 M858,587.5 V594"/>
<ellipse cx="853" cy="583.5" rx="3.5" ry="2"/>
<!-- 330 strip -->
<path d="M763.2,626.3 L770.7,624.1 L808.3,622 L854.5,616 L861,618.7 L856.7,620.9 L810.5,627.3 L770.7,630.5 Z"/>
<path d="M783.5,626.5 Q786,624 790,625 M792,624.5 L799,624 L799,627.5 L792,628 Z M803,623.5 L809.5,623 L810,626.5 L803,627 Z M834,620 L841,619.5 L842,623 L835,623.5 Z M851.5,617 L855,616.8 L855,619 L851.5,619.5 Z" stroke-width="1.1"/>
<!-- 340 strip -->
<path d="M762.1,644.5 L786.9,642.4 L828.7,638.1 L843.8,638.1 L849.1,634.8 L859.9,634.8 L858.8,637 L841.6,641.3 L808.3,643.4 L781.5,647.2 L764,647 Z"/>
<path d="M784,645.5 Q786,643 790,643.5 M792,643 L798.5,642.5 L798.5,645.5 L792,646 Z M803,642 L808.5,641.5 L808.5,644.5 L803,645 Z M830,639 L837,638.5 L837.5,642 L830.5,642.5 Z" stroke-width="1.1"/>
<!-- 370 -->
<ellipse cx="808.8" cy="689" rx="10.2" ry="13" transform="rotate(-8 808.8 689)" stroke-width="1.2"/>
<path d="M806,676.5 L816,681 M804,702 L815,707.5"/>
<ellipse cx="819.5" cy="694.5" rx="9.8" ry="13" stroke-width="1.2"/>
<ellipse cx="821.0" cy="695.5" rx="4.2" ry="5.8" stroke-width="1.4"/>
<ellipse cx="821.3" cy="695.5" rx="2" ry="3"/>
<path d="M823.1,694.5 L829.0,694.5 M822.9,696.2 L828.4,698.8 M822.3,697.7 L826.8,702.5 M821.3,698.8 L824.2,705.3 M820.1,699.4 L821.1,706.8 M818.9,699.4 L817.9,706.8 M817.7,698.8 L814.8,705.3 M816.7,697.7 L812.2,702.5 M816.1,696.2 L810.6,698.8 M815.9,694.5 L810.0,694.5 M816.1,692.8 L810.6,690.2 M816.7,691.3 L812.2,686.5 M817.7,690.2 L814.8,683.7 M818.9,689.6 L817.9,682.2 M820.1,689.6 L821.1,682.2 M821.3,690.2 L824.2,683.7 M822.3,691.3 L826.8,686.5 M822.9,692.8 L828.4,690.2" stroke-width="1.1"/>
<path d="M819.5,682.0 L820.5,680.0 M822.4,682.6 L824.3,681.1 M825.1,684.4 L827.6,683.5 M827.2,687.2 L830.2,686.9 M828.5,690.6 L831.7,691.1 M829.0,694.5 L832.0,695.7 M828.5,698.4 L831.0,700.1 M827.2,701.8 L829.0,703.9 M825.1,704.6 L826.0,706.9 M822.4,706.4 L822.4,708.6 M819.5,707.0 L818.5,709.0" stroke-width="1.1"/>
<!-- 385 washer -->
<ellipse cx="850.2" cy="711.1" rx="9.5" ry="12" transform="rotate(15 850.2 711.1)" stroke-width="1.3"/>
<ellipse cx="850.5" cy="711.9" rx="4.6" ry="5.9" transform="rotate(15 850.5 711.9)" stroke-width="1.2"/>
<!-- 380 bolt -->
<ellipse cx="885.5" cy="733.5" rx="7.8" ry="10.2" transform="rotate(-25 885.5 733.5)" stroke-width="1.4"/>
<path d="M884,728.5 L890,726 L896.5,729.5 L898,737.5 L894,744.5 L887.5,743.5 L883,737 Z" stroke-width="1.4"/>
<path d="M887,729 L890,736 L888,743.5 M890,736 L897.5,734" stroke-width="1.1"/>
<path d="M868,719 L880,727 L877.5,733.4 L866.3,726 Q864,721 868,719 Z" stroke-width="1.3"/>
<path d="M870,720.5 L867.5,726.5 M872.5,722 L870,728 M875,723.8 L872.5,729.8 M877.5,725.5 L875,731.5" stroke-width="1.3"/>
<!-- 18 rivet -->
<path d="M659.5,681 V663.5 Q661.8,661.5 664,663.5 V681" stroke-width="1.2"/>
<path d="M661.8,664 V680" stroke-width="1.4"/>
<ellipse cx="661.7" cy="685" rx="7.8" ry="4" stroke-width="1.2"/>
<path d="M656.5,688.5 V701 Q661.3,707 666.1,701 V688.5 M659,690 V703 M663.5,690 V703"/>
<!-- 40 clip -->
<path d="M506.8,724.6 L509.8,722.2 L523.4,719.3 L529.3,716.8 L531.7,716.3 L539.1,721.2 L540,724.6 L536.6,727.1 L523,728.6 L518.6,729.5 L509,729.5 Z" stroke-width="1.7"/>
<path d="M506.8,724.6 L507.3,733 L517.1,738.8 L519.5,741.7 L541.5,733.9 L538.1,731 L519,737 L518.6,729.5" stroke-width="1.7"/>
<path d="M509.8,726 L522.5,723.2 M536.6,727.1 L536.8,731 M509,731 L517.5,736.5" stroke-width="1.4"/>
<path d="M523,719.5 V727.6 M531.7,717 V726.5" stroke-width="1.5"/>
<ellipse cx="527.3" cy="720" rx="3.2" ry="1.5" stroke-width="1.3"/>
<!-- 237 clip -->
<path d="M631,734.4 L638.9,731.7 L652.9,737 L652.1,743.2 L645.9,755.5 L642.4,759 L631.9,754.6 L630.1,750.2 L635.4,743.2 L631.9,737.9 Z" stroke-width="1.3"/>
<path d="M635.4,738 L652,741 M635.4,743.2 L647,746 L642.4,759 M638.9,745 L645.9,746.5 L644,752 L638,751 Z"/>
<circle cx="642" cy="748" r="1.2"/>
<!-- 230 fog grille -->
<ellipse cx="435.5" cy="772" rx="12.5" ry="14" transform="rotate(-35 435.5 772)" stroke-width="1.4"/>
<ellipse cx="435" cy="772.5" rx="9" ry="10.5" transform="rotate(-35 435 772.5)" stroke-width="1.3"/>
<path d="M423,760 L420,756.5 L428,755 L450,759 L466.5,763 L466,770 L464.5,778 L458,786.5 L447,787.5 M425,784 L414,778 L410,771 L412,768"/>
<path d="M422,759.5 L413,760 L411,764 L414,766.5 L424,766 M411.5,768 L420,768.5 M411,770.5 L412,774 L420,775 L423,772 M448,765 L465,765.5 M448,770 L463,772 M447,776 L464,778 M446,781 L459,782 L457,786 L446,786" stroke-width="1.2"/>
<!-- 270 clip -->
<path d="M197.8,780.8 L200.4,778.2 L217.6,787.4 L218.2,803.2 L216.3,805.9 L212.3,803.2 L211.6,807.2 L197.8,799.3 Z" stroke-width="1.2"/>
<path d="M197.8,780.8 L211,788.7 L217.6,787.4 M211,788.7 L211.6,807.2 M197.5,793 Q200,795 197.8,797 M217,800 Q214,802 216,804"/>
<!-- 395 bolt -->
<path d="M102.9,775.5 L106.9,773.6 L111.5,776.9 L112.1,786.1 L108.2,790 L102.9,788.1 L100.9,780.8 Z" stroke-width="1.3"/>
<path d="M108.2,778 V789 M102.5,777 L108.2,778 L111.5,776.9"/>
<path d="M111.5,777 L126.6,772.9 L126.6,780.8 L112.1,784.8 M117,776 V783 M119.5,775 V782.5 M122,774.5 V782 M124.5,773.5 V781.5" stroke-width="1.2"/>
<!-- 42 -->
<ellipse cx="259.8" cy="627.2" rx="3" ry="4.3" transform="rotate(-25 259.8 627.2)" stroke-width="1.5"/>
<path d="M258,623 L265,619 M262,631 L269.5,626.5" stroke-width="1.4"/>
<ellipse cx="266.5" cy="622" rx="3.4" ry="5" transform="rotate(-25 266.5 622)" stroke-width="1.3"/>
<path d="M268.5,615.5 L273.5,613 Q277.5,612.5 277,618 L275,622.5 L270,625.5 Z" fill="#17134c" stroke-width="1.2"/>
<!-- 50 -->
<path d="M310,600 L320,597.5 L321.5,608 L311.5,610 Q308,605 310,600 Z M312,599 L313.5,609 M314.5,598.5 L316,608.8 M317,598 L318.5,608.5" stroke-width="1.4"/>
<ellipse cx="323.8" cy="600.8" rx="4" ry="8.6" stroke-width="1.2"/>
<path d="M327,598.5 L332,597 M327.5,603 L332.5,601.5"/>
<ellipse cx="335.4" cy="597.8" rx="3.6" ry="5.3" stroke-width="1.2"/>
<!-- 44 -->
<path d="M282.8,644.8 L288.7,639.6 L305.7,649.5 L302.7,661.8 L299.2,661.2 L282.8,651.3 Z" stroke-width="1.6"/>
<path d="M285.5,643 L284.5,650 M288.7,639.6 L287.5,648 L302,656.5 L302.7,661.8 M289,644 L304,652.5 M288,652 L301,659 M290,647 L293,651 L297,649" stroke-width="1.2"/>
<!-- 55 bolt -->
<ellipse cx="314.5" cy="692.6" rx="6.6" ry="9.7" transform="rotate(-20 314.5 692.6)" stroke-width="1.3"/>
<path d="M313,692 L315,691 M314,690 V694"/>
<path d="M318.7,688 L330,681.5 L332.6,688 L320.5,695 M322,686 L324,692.5 M324.8,684.5 L326.8,691 M327.5,683 L329.5,689.5" stroke-width="1.3"/>
<!-- 57 washer -->
<ellipse cx="340.1" cy="678.2" rx="5.4" ry="8.2" transform="rotate(-15 340.1 678.2)" stroke-width="1.3"/>
<ellipse cx="340.3" cy="678.4" rx="2.5" ry="3.5" transform="rotate(-15 340.3 678.4)"/>
<path d="M346.6,674.7 L355.2,670" stroke-width="0.9"/>
<!-- 58 -->
<path d="M383.3,641.0 C384.0,640.5 385.5,638.4 387.3,637.9 C389.1,637.4 392.4,637.7 393.9,638.3 C395.4,638.9 395.1,639.1 396.1,641.4 C397.1,643.7 398.8,647.5 400.0,652.0 C401.2,656.5 403.7,665.3 403.6,668.7 C403.5,672.1 402.3,672.7 399.6,672.2 C396.9,671.8 389.7,669.0 387.3,666.0 C384.9,663.0 385.8,657.3 385.1,654.2 C384.4,651.1 383.6,649.8 383.3,647.6 C383.0,645.4 383.3,642.1 383.3,641.0" stroke-width="1.5"/>
<path d="M387.3,638.3 C388.4,639.3 391.9,639.3 393.9,644.5 C395.9,649.7 398.3,665.3 399.2,669.5" stroke-width="1.4"/>
<ellipse cx="389.5" cy="652.3" rx="2.1" ry="4.2" transform="rotate(-10 389.5 652.3)" stroke-width="1.4"/>
<path d="M395.7,638.3 C396.9,637.8 401.0,635.6 403.1,635.3 C405.2,635.0 406.9,635.3 408.4,636.6 C409.9,637.9 411.4,641.2 411.9,643.2 C412.4,645.2 412.5,646.8 411.5,648.5 C410.5,650.2 407.6,652.7 405.8,653.7 C404.0,654.7 401.4,654.5 400.5,654.6" stroke-width="1.5"/>
<path d="M400,645 L404,642 L409,643 L410.5,648 L405,652 L401,651 Z" fill="#17134c" stroke-width="1"/>
<path d="M402,640 L404,644 M407,639 L409,643" stroke-width="1.2"/>
<path d="M385.6,654.4 L368.4,663.75" stroke-width="0.9"/>
<!-- 306 bolt -->
<path d="M428.3,586 V564.5 Q432.5,560.5 436.7,564.5 V586" stroke-width="1.5"/>
<path d="M428.5,566.7 Q432.5,569 436.5,566.7 M428.5,570.6 Q432.5,573 436.5,570.6 M428.5,574.9 Q432.5,577 436.5,574.9 M428.5,579.2 Q432.5,581.3 436.5,579.2 M428.5,583.1 Q432.5,585 436.5,583.1" stroke-width="1.2"/>
<ellipse cx="432.7" cy="584.1" rx="10.5" ry="6" stroke-width="1.3"/>
<path d="M424.4,588.6 V594 L428.3,596.4 H436.5 L440.6,594 V588.6 M428.3,590 V596.4 M436.5,590 V596.4" stroke-width="1.3"/>

<!-- carrier 60 -->
<path d="M581.7,233.6 L584.7,225.8 L593.4,214.1 L605.2,202.4 L624.7,188.7 L636.4,187.7 L636.4,189.6 L628.6,193.6 L629.6,196.5 L622.8,208.2 L615.9,216"/>
<path d="M596,212 L626,192 M600,217 L622,204 M606,222 L619,214 M589,222 L598,212"/>
<circle cx="623" cy="191" r="2"/>
<path d="M616.9,219 L628.6,209.2 L636.4,212.1 L630.6,218 L626.6,223.8 L630.6,227.8 L631.5,233.6 L618.8,235.6 L616.9,237.5 L615.9,264.9"/>
<path d="M603,232 L606,226 L612,223 L617,226 M602,236 L611,232 L616,234 M620,222 L631,213"/>
<path d="M581.8,234.8 L583.7,227.9 L591.5,234.8 L584.7,248.4 L582.7,253.3 L582.7,267 L584.7,276.7 L583.7,288.4 L585.7,299.2 L579.8,307 L579.8,317.7 L586.6,330.4 L593.5,337.2 L594.4,345 L604.3,346.5"/>
<path d="M587.6,249.4 L586.6,266 L588.6,299.2 L591,307"/>
<path d="M588.6,249.4 L594.4,239.6 L608.1,259.2 L595.4,276.7 L588.6,268.9 Z M590.5,251.4 L598.4,266 M594.4,239.6 L609.1,258.2"/>
<path d="M607.1,259 L607.1,285.5 L604.2,302.1 M595.4,276.7 L591.5,299.2 L591.5,303" />
<path d="M588.6,268 V301 M607,268 V285" stroke-width="1.9"/>
<path d="M611,229.9 L609.1,257.2 L610.1,266 L611,308 L612,332.4"/>
<path d="M591.5,303.1 L611,306 M593,306 V327.5 M597.4,306 V327.5 M601.3,306 V327.5 M605.2,306 V327.5 M588.6,327.5 L611,330.4 L613,335 L604,340 L596,337"/>
<path d="M597.4,308 V325 M593,309 V324" stroke-width="1.8"/>
<path d="M584,310 L588,325 M586,292 L583,296 L586,300 M583,258 L586,262 M582,272 L585,276"/>
<path d="M614.9,234.8 L630.6,229.9 L631.5,233.8 L618.8,235.7 L614,247.4 L614,266"/>
<path d="M596,224 L606,220 L612,224 M598,230 L611,226 L614,229 M600,219 L604,214 L612,212 M605,229 L608,239"/>
<path d="M598.0,210.0 C599.3,209.2 603.7,206.2 606.0,205.0 C608.3,203.8 610.7,202.7 612.0,203.0 C613.3,203.3 614.7,205.5 614.0,207.0 C613.3,208.5 610.3,210.8 608.0,212.0 C605.7,213.2 601.7,214.3 600.0,214.0 C598.3,213.7 598.3,210.7 598.0,210.0" stroke-width="1.1"/>
<path d="M603.0,232.0 C603.3,231.0 603.7,227.5 605.0,226.0 C606.3,224.5 609.2,223.0 611.0,223.0 C612.8,223.0 615.7,225.0 616.0,226.0 C616.3,227.0 614.3,228.3 613.0,229.0 C611.7,229.7 609.0,228.8 608.0,230.0 C607.0,231.2 607.2,235.0 607.0,236.0" stroke-width="1.2"/>
<path d="M590,232 L597,241 M601,215 L604,219" stroke-width="1.1"/>
<!-- upper rail -->
<path d="M614.0,266.0 C614.6,267.8 616.1,273.0 617.9,276.7 C619.7,280.4 621.9,284.6 624.7,288.4 C627.5,292.1 630.3,295.3 634.5,299.2 C638.7,303.1 645.3,307.9 650.0,312.0 C654.7,316.1 658.7,320.9 662.7,323.7 C666.7,326.5 668.4,326.4 674.1,328.7 C679.8,331.0 689.0,334.5 697.0,337.6 C705.0,340.7 717.8,345.6 721.9,347.2"/>
<path d="M609.1,279.7 C610.2,281.1 613.0,284.8 615.9,288.4 C618.8,292.0 621.9,296.5 626.7,301.1 C631.6,305.7 639.5,311.7 645.0,316.0 C650.5,320.3 654.2,323.7 660.0,327.0 C665.8,330.3 673.3,333.3 680.0,336.0 C686.7,338.7 693.3,340.7 700.0,343.0 C706.7,345.3 716.7,348.8 720.0,350.0"/>
<path d="M608.1,298.2 C609.7,300.6 614.1,307.9 617.9,312.8 C621.6,317.7 626.7,324.1 630.6,327.5 C634.5,330.9 636.4,330.9 641.1,333.0 C645.8,335.1 652.8,337.5 658.9,340.2 C665.0,342.9 671.5,346.6 677.9,349.1 C684.2,351.6 690.3,351.7 697.0,355.4 C703.7,359.1 714.6,368.6 718.1,371.3"/>
<path d="M609.1,291.4 L617.9,302.1 M612,296 L622,308 M616,283 L618,286 M618,290 L621,294 M621,296 L624,300"/>
<path d="M634.7,309.9 C637.2,311.9 644.9,317.7 650.0,322.0 C655.1,326.3 662.7,333.4 665.2,335.7"/>
<path d="M632.3,318.1 C635.2,320.2 643.8,326.7 650.0,331.0 C656.2,335.3 666.5,341.8 669.8,343.9"/>
<path d="M671,328.7 L695.6,338.1 L696.8,341.6 L692.1,345.1 L690.9,355.6 L678.1,352.1 L672.2,350.9 L671,338 Z M679.2,340.4 L690.9,344 L690.9,353.3 L679.2,350 Z M676,331.5 L693,338 M677,334 L694,340.5"/>
<path d="M693.3,342.7 L720.2,353.3 M693.3,349.8 L719.1,360.3 M693.9,360.3 L715.6,369.7 M707.4,340.4 L722.6,342.5 L720,347.4 L708,345.5 Z M674,347 L676,353 M672.5,336 L674.5,348"/>
<path d="M629.7,305.9 L628.4,322.4 M641,312 L643,318 M652,323 L650,334"/>
<!-- centre pillar -->
<path d="M721.9,348.4 L743.5,312.9 L746,305.2 L751.1,304 L768.9,300.2 L777.8,302.1 L771.4,306.5 L760,323 L748.6,340.8 L748.6,345.9"/>
<circle cx="747" cy="306" r="3"/>
<path d="M741,353.5 L761.3,316.7 M752,309 L768,304 L770,306 M746,312 L764,307"/>
<path d="M720.6,353.5 V391.6 M723.8,354.8 V390 M735.9,353.5 V394 M739.7,361 V400 M720,391 L736,395"/>
<!-- right part -->
<path d="M748.6,345.9 L775.9,353.6 L800,359 L821.5,361.1 L832.2,364.9 L840,364.9 L850.8,362.2 L902.9,355.9 L904.5,358 L903.1,359.5"/>
<path d="M853.5,364 L902.9,360.4"/>
<path d="M749.4,349.3 L762.3,351.4 L773,352.5 L800,358 M773,352.5 L822.4,363.3 M776,355.5 L820,362"/>
<path d="M903.1,359.5 L897.5,364.9 L867,417.9 L858,444.9 L853.5,450.3"/>
<path d="M865.2,405.3 L850.8,448.5 M860.7,402.6 L846,446"/>
<circle cx="888.5" cy="372.1" r="1.5"/><circle cx="866.1" cy="414.3" r="1.5"/>
<path d="M840.8,455.6 L845.1,466.4 L849.4,467.4 L852.6,453.5 M843,458 L848,458"/>
<path d="M853.7,452.4 L825,453.5 L811.7,452.4 L779.4,448.1 L750.4,439.5 L715,429.8"/>
<path d="M755.8,444.9 L813.8,458.8 L826,457 L850,455 M758,451.3 L761.2,457.8 L784.8,464.2 L813.8,461"/>
<path d="M837.6,369.7 L879.5,370.8 L880.6,374 L877.3,373.5 L847.3,379.4 L840,385"/>
<path d="M832.2,366.5 L826.9,388 L824.7,420.2 L824.7,452.4 M821.5,366.5 L822.6,420.2 L820,452"/>
<path d="M845.1,388.0 C846.2,386.7 847.0,381.5 851.6,380.4 C856.2,379.3 870.1,378.4 873.0,381.5 C875.9,384.6 872.3,395.5 868.7,398.7 C865.1,401.9 855.5,401.5 851.6,400.8 C847.7,400.1 846.2,396.5 845.1,394.4 C844.0,392.3 845.1,389.1 845.1,388.0"/>
<path d="M850.5,390.1 C851.4,389.2 852.8,385.8 855.8,384.7 C858.8,383.6 866.9,381.7 868.7,383.7 C870.5,385.7 869.1,394.5 866.6,396.6 C864.1,398.8 856.4,397.7 853.7,396.6 C851.0,395.5 851.0,391.2 850.5,390.1"/>
<path d="M854,392 L862,389 L866,392 M853,395 L860,393"/>
<path d="M835.4,370.8 L851.6,371.9 L844,380.4 L835.4,384.7 Z"/>
<path d="M830.0,399.0 C831.7,398.8 838.0,397.1 840.0,397.6 C842.0,398.1 842.2,399.3 841.9,402.0 C841.6,404.7 840.1,411.9 838.0,413.7 C835.9,415.5 830.5,414.9 829.0,413.0 C827.5,411.1 828.8,404.3 829.0,402.0 C829.2,399.7 829.8,399.5 830.0,399.0"/>
<path d="M845,403 L859.1,403 L856,413.7 L843,413.7 Z"/>
<path d="M825.8,417 L856.9,417 M833,425 L851,424.5 L850,427 L833,427.5 Z M826,433 L852,432 M833,438.5 L848,438 L847,442 L833,442 Z M826.9,451.3 L851.6,450"/>
<!-- middle section -->
<path d="M723.6,354.7 V389 M735.4,353.6 V393.3" stroke-width="1.8"/>
<path d="M739.7,353.6 L738.6,374 L752.6,378.3 L762.3,377.2 L773,371.9 L779.4,361.1"/>
<path d="M781.6,361.1 L809.5,366.5 L811.7,376.1 L803.1,379.4 L792.3,377.2 L781.6,374 L785,367"/>
<path d="M751.5,379.4 L790.2,385.8 L825,393.3 M811.7,376.1 L820,376 M803,379.4 L808,387"/>
<path d="M719.3,390.1 L736.5,395.5 L758,407.3 L795.6,414.8 L822.4,422.3"/>
<path d="M718.2,392.3 L736.5,401.9 L758,409.4 L811.7,420.2"/>
<path d="M779.4,415.9 V441.7 M788,417 V442.7 M797.7,418 V444.9 M809.5,420.2 V447 M737.6,403 V415.9 M745.1,406.2 V422.3 M750,408 V438"/>
<path d="M756.0,412.0 C758.3,411.9 767.1,410.9 770.0,411.6 C772.9,412.3 772.9,413.3 773.5,416.0 C774.1,418.7 775.8,425.8 773.5,427.7 C771.2,429.6 763.1,428.3 760.0,427.7 C756.9,427.1 755.6,426.1 754.7,424.0 C753.8,421.9 754.5,417.0 754.7,415.0 C754.9,413.0 755.8,412.5 756.0,412.0"/>
<path d="M765,429.8 L773.5,431 L773.5,437.4 L765,436 Z M758,430 V442 M761,431 V443"/>
<path d="M754,395 L760,393.3 L762.3,396 L756,397 L755,401.9 L760,400 M764,393 L770,396 L772,402 L766,404 L765,398"/>
<path d="M792,388 L795,392 L794,398 L798,404 L796,410 M794,393 L797,392 M797,402 L799,405 M804.1,395.5 V419.1 M818.1,396.6 V420"/>
<path d="M741,357 L745,383 M757,384 L760,392 M777,388 L776,410"/>
<path d="M715,411.6 L721.4,413.7 L750.4,438.4 M731,418 L741,424 L744,429 L734,426 Z"/>
<!-- lower rail -->
<path d="M593,336 L607,339.6 L613,342 L623.1,351.4 L633.3,355.8 L640.7,367.5 L646.5,370.4 L672.9,386.5 L702.2,402.6 L716.8,410 L730,415"/>
<path d="M593.8,339.6 L605.5,347 L614.3,358.7 L629,369 L643.6,383.6 L658.3,392.4 L672.9,404.1 L687.5,412.9 L702.2,415.8 L713.9,420.2 L731.5,430.5"/>
<path d="M608.4,341.1 L629,364.6 L658.3,383.6 L687.5,398.2 L716.8,412.9"/>
<path d="M633,371 L640,377 L637,382 L631,378 Z M662,394 L670,397 L672,403 L664,402 Z M690,411 L696,412 L697,416 L690,415 Z M626,350 L632,356 M612,345 L618,352 M650,381 L655,379 M678,392 L683,396"/>

<!-- beam 70 -->
<path d="M548.9,346.4 L549.6,342.3 L556.4,336.8 L564.6,334.1 L566.7,338.2 L567.3,343.7 L574.2,360.1 L576.9,364.2 L579.6,366.9 L594.7,382 L615.2,401.1 L635.7,417.5 L656.2,428.4 L679.3,437.8 L720.3,456.9 L729.1,460.5 L781.9,473 L783.3,505.2 L780.4,509.6 L740.8,495 L715.9,487.6 L704.2,483.3 L689.6,477.4 L672,468.6 L650,459.8 L635.7,446.2 L622,439.4 L611.1,433.9 L597.4,423 L590.6,412 L583.7,406.6 L575.5,401.1 L570,392.9 L563.2,384.7 L555,373.7 L549.6,361.4 Z"/>
<path d="M594.7,398.4 L622,414.8 L649.4,429.8 L680,444.8 L720.3,462.7 L774.5,477.4"/>
<path d="M592,403.8 L608.4,420.2 L635.7,435.3 L660.3,446.2 L680,455.8 L720.3,467.1 L773,481.8"/>
<path d="M716.6,472.2 L739.1,479.1"/>
<path d="M576.2,392.4 L582.4,389.3 L590.2,394 L590.2,403.3 L580.9,404.9 L576.2,400.2 Z M576.2,392.4 L580.9,395.5 L590.2,394 M580.9,395.5 V404.9"/>
<path d="M559.8,345.6 L568.4,369 M556.7,351.1 L564.5,363.5 M555.1,337 L557,341 L563,339 M572.3,362.8 L574.6,365.9 L577.8,365.1"/>
<path d="M549,346 L549.5,362" stroke-width="2.2"/>
<path d="M557,361.5 L558.5,372 L562.5,377.5 L562,370 Z M568,376 L571,374.5 L571,380 L569,384 M574,378 L578,376 L578.5,381 L576,387 M569,387 L572,389" stroke-width="1.2"/>
<path d="M595.7,397.9 L625,417.4 M593.4,402.5 L625,421 M598,394 L601,391"/>
<path d="M594.7,407.9 L605.6,412 L605.6,423 L597,420 M634.3,433.9 L653.5,441 L653,450 L636,443 M646,440 V452 M652,443 L660,446 L662,455"/>
<path d="M673.4,452.5 V468.6 M689.6,456.9 V477.4 M704.2,461.3 V483.3 M714.5,465.7 V487.6 M739.4,477.4 V495 M767.2,486.2 L770.1,505.2"/>
<path d="M716.0,476.0 C718.7,476.3 728.5,477.0 732.0,478.0 C735.5,479.0 736.2,480.1 737.0,482.0 C737.8,483.9 739.0,488.7 736.5,489.5 C734.0,490.3 725.4,487.9 722.0,487.0 C718.6,486.1 717.0,485.8 716.0,484.0 C715.0,482.2 716.0,477.3 716.0,476.0"/><path d="M727,477.5 L720,483 L729,487"/>
<path d="M660,441 L668,446 L671,455 L663,457 M690,457 L700,459 L703,468 M694,462 L698,475 M776,488 L780,490 L781,500"/>
<path d="M596.4,405.4 C599.8,408.3 610.8,418.0 616.9,422.6 C623.0,427.2 626.8,429.6 633.0,433.3 C639.2,437.1 648.2,442.0 654.4,445.1 C660.6,448.2 667.4,450.9 670.0,452.0"/>
<path d="M596.4,421.5 L611.5,435.5 L620,440 M634,434.4 L635.1,440.8 L650.1,449.4 L653.4,443 M654.4,443 V454.9 M663,439 L664,452 M680,446 L681,460 M689,455 L690,468 M697,450 L698,468"/>
<path d="M667,447 Q662,452 667,458 M588,370 L592,383 L598,390 M591,399 L596,403"/>
<path d="M592,398 L590,408" stroke-width="2.2"/>
<path d="M700,460 L704,474 M708,462 L709,476 M767,487 L771,507 M770,485 L779,488 L780,505 M772,495 L779,497"/>

<!-- grille 90 -->
<defs><clipPath id="gc"><path d="M119,638 L138,660 L162,681 L192,695 L219,706 L238,714.5 L240,726 L234,734 L228,735.5 L193,721.5 L167,707.5 L146,693.5 L129,676 L120,662 L118,646 Z"/></clipPath></defs>
<path d="M117.5,634.7 C118.1,634.8 117.2,631.2 121.0,635.5 C124.8,639.8 133.3,652.9 140.3,660.2 C147.3,667.5 154.4,673.9 163.2,679.5 C172.0,685.1 183.7,689.5 193.1,693.6 C202.5,697.7 211.8,700.9 219.4,704.1 C227.0,707.3 235.0,710.9 238.8,712.9 C242.6,714.9 242.0,714.0 242.3,716.4 C242.6,718.8 241.7,723.8 240.5,727.0 C239.3,730.2 237.4,734.0 235.3,735.8 C233.2,737.5 235.2,739.6 228.2,737.5 C221.2,735.4 203.3,728.1 193.1,723.4 C182.8,718.7 174.6,714.1 166.7,709.4 C158.8,704.7 152.0,700.6 145.6,695.3 C139.2,690.0 132.4,683.0 128.0,677.7 C123.6,672.4 121.1,669.0 119.2,663.7 C117.3,658.4 116.9,650.9 116.6,646.1 C116.3,641.3 117.3,636.6 117.5,634.7"/>
<path d="M119.5,638.0 C122.6,641.8 130.9,653.8 138.0,661.0 C145.1,668.2 153.0,675.8 162.0,681.5 C171.0,687.2 182.5,691.4 192.0,695.5 C201.5,699.6 211.3,702.8 219.0,706.0 C226.7,709.2 234.5,711.2 238.0,714.5 C241.5,717.8 240.7,722.8 240.0,726.0 C239.3,729.2 236.0,732.4 234.0,734.0 C232.0,735.6 235.0,737.6 228.2,735.5 C221.4,733.4 203.3,726.2 193.1,721.5 C182.9,716.8 174.8,712.2 167.0,707.5 C159.2,702.8 152.3,698.8 146.0,693.5 C139.7,688.2 133.2,681.2 129.0,676.0 C124.8,670.8 122.2,667.0 120.5,662.0 C118.8,657.0 118.7,650.0 118.5,646.0 C118.3,642.0 119.3,639.3 119.5,638.0"/>
<g clip-path="url(#gc)" stroke-width="1.15" stroke="#15124a"><path d="M34.3,447.6 L422.4,544.3 M33.1,452.4 L421.2,549.2 M31.9,457.3 L420.0,554.0 M30.7,462.1 L418.8,558.9 M29.5,467.0 L417.6,563.7 M28.3,471.8 L416.4,568.6 M27.1,476.7 L415.2,573.4 M25.9,481.5 L414.0,578.3 M24.6,486.4 L412.8,583.1 M23.4,491.2 L411.6,588.0 M22.2,496.1 L410.3,592.8 M21.0,500.9 L409.1,597.7 M19.8,505.8 L407.9,602.5 M18.6,510.6 L406.7,607.4 M17.4,515.5 L405.5,612.2 M16.2,520.3 L404.3,617.1 M15.0,525.2 L403.1,621.9 M13.8,530.0 L401.9,626.8 M12.6,534.9 L400.7,631.7 M11.3,539.7 L399.5,636.5 M10.1,544.6 L398.3,641.4 M8.9,549.4 L397.0,646.2 M7.7,554.3 L395.8,651.1 M6.5,559.1 L394.6,655.9 M5.3,564.0 L393.4,660.8 M4.1,568.8 L392.2,665.6 M2.9,573.7 L391.0,670.5 M1.7,578.5 L389.8,675.3 M0.5,583.4 L388.6,680.2 M-0.8,588.2 L387.4,685.0 M-2.0,593.1 L386.2,689.9 M-3.2,598.0 L384.9,694.7 M-4.4,602.8 L383.7,699.6 M-5.6,607.7 L382.5,704.4 M-6.8,612.5 L381.3,709.3 M-8.0,617.4 L380.1,714.1 M-9.2,622.2 L378.9,719.0 M-10.4,627.1 L377.7,723.8 M-11.6,631.9 L376.5,728.7 M-12.8,636.8 L375.3,733.5 M-14.1,641.6 L374.1,738.4 M-15.3,646.5 L372.8,743.2 M-16.5,651.3 L371.6,748.1 M-17.7,656.2 L370.4,752.9 M-18.9,661.0 L369.2,757.8 M-20.1,665.9 L368.0,762.6 M-21.3,670.7 L366.8,767.5 M-22.5,675.6 L365.6,772.3 M-23.7,680.4 L364.4,777.2 M-24.9,685.3 L363.2,782.0 M-26.2,690.1 L362.0,786.9 M-27.4,695.0 L360.8,791.8 M-28.6,699.8 L359.5,796.6 M-29.8,704.7 L358.3,801.5 M-31.0,709.5 L357.1,806.3 M-32.2,714.4 L355.9,811.2 M-33.4,719.2 L354.7,816.0 M-34.6,724.1 L353.5,820.9 M-35.8,728.9 L352.3,825.7 M-37.0,733.8 L351.1,830.6 M-38.3,738.6 L349.9,835.4 M-39.5,743.5 L348.7,840.3 M-40.7,748.3 L347.4,845.1 M-41.9,753.2 L346.2,850.0 M-43.1,758.1 L345.0,854.8 M-44.3,762.9 L343.8,859.7 M-45.5,767.8 L342.6,864.5 M-46.7,772.6 L341.4,869.4 M-47.9,777.5 L340.2,874.2 M-49.1,782.3 L339.0,879.1 M-50.3,787.2 L337.8,883.9 M-51.6,792.0 L336.6,888.8 M-52.8,796.9 L335.4,893.6 M-54.0,801.7 L334.1,898.5 M-55.2,806.6 L332.9,903.3 M-56.4,811.4 L331.7,908.2 M-57.6,816.3 L330.5,913.0 M-58.8,821.1 L329.3,917.9 M-60.0,826.0 L328.1,922.7 M-61.2,830.8 L326.9,927.6 M-62.4,835.7 L325.7,932.4 M170.9,436.5 L428.1,742.9 M168.0,439.0 L425.1,745.4 M165.0,441.5 L422.1,747.9 M162.0,444.0 L419.1,750.5 M159.0,446.5 L416.1,753.0 M156.0,449.1 L413.1,755.5 M153.0,451.6 L410.1,758.0 M150.0,454.1 L407.1,760.5 M147.0,456.6 L404.2,763.0 M144.1,459.1 L401.2,765.5 M141.1,461.6 L398.2,768.0 M138.1,464.1 L395.2,770.5 M135.1,466.6 L392.2,773.0 M132.1,469.1 L389.2,775.5 M129.1,471.6 L386.2,778.0 M126.1,474.1 L383.2,780.5 M123.1,476.6 L380.3,783.0 M120.2,479.1 L377.3,785.6 M117.2,481.6 L374.3,788.1 M114.2,484.1 L371.3,790.6 M111.2,486.7 L368.3,793.1 M108.2,489.2 L365.3,795.6 M105.2,491.7 L362.3,798.1 M102.2,494.2 L359.3,800.6 M99.2,496.7 L356.4,803.1 M96.3,499.2 L353.4,805.6 M93.3,501.7 L350.4,808.1 M90.3,504.2 L347.4,810.6 M87.3,506.7 L344.4,813.1 M84.3,509.2 L341.4,815.6 M81.3,511.7 L338.4,818.1 M78.3,514.2 L335.4,820.6 M75.3,516.7 L332.5,823.2 M72.4,519.2 L329.5,825.7 M69.4,521.7 L326.5,828.2 M66.4,524.3 L323.5,830.7 M63.4,526.8 L320.5,833.2 M60.4,529.3 L317.5,835.7 M57.4,531.8 L314.5,838.2 M54.4,534.3 L311.5,840.7 M51.4,536.8 L308.6,843.2 M48.5,539.3 L305.6,845.7 M45.5,541.8 L302.6,848.2 M42.5,544.3 L299.6,850.7 M39.5,546.8 L296.6,853.2 M36.5,549.3 L293.6,855.7 M33.5,551.8 L290.6,858.3 M30.5,554.3 L287.6,860.8 M27.5,556.8 L284.7,863.3 M24.6,559.4 L281.7,865.8 M21.6,561.9 L278.7,868.3 M18.6,564.4 L275.7,870.8 M15.6,566.9 L272.7,873.3 M12.6,569.4 L269.7,875.8 M9.6,571.9 L266.7,878.3 M6.6,574.4 L263.7,880.8 M3.6,576.9 L260.8,883.3 M0.7,579.4 L257.8,885.8 M-2.3,581.9 L254.8,888.3 M-5.3,584.4 L251.8,890.8 M-8.3,586.9 L248.8,893.3 M-11.3,589.4 L245.8,895.9 M-14.3,591.9 L242.8,898.4 M-17.3,594.4 L239.8,900.9 M-20.3,597.0 L236.9,903.4 M-23.2,599.5 L233.9,905.9 M-26.2,602.0 L230.9,908.4 M-29.2,604.5 L227.9,910.9 M-32.2,607.0 L224.9,913.4 M-35.2,609.5 L221.9,915.9 M-38.2,612.0 L218.9,918.4 M-41.2,614.5 L215.9,920.9 M-44.2,617.0 L213.0,923.4 M-47.1,619.5 L210.0,925.9 M-50.1,622.0 L207.0,928.4 M-53.1,624.5 L204.0,930.9 M-56.1,627.0 L201.0,933.5 M-59.1,629.5 L198.0,936.0 M-62.1,632.1 L195.0,938.5 M-65.1,634.6 L192.0,941.0 M-68.1,637.1 L189.1,943.5"/></g>
<path d="M137.7,688 L141,686.5 L146,691 L150,696 L149,702 L146,704 L144,699 L140,697 L138,694 Z M141,690 L141,697"/>
<path d="M175.5,713 L179,712.9 L186,716 L191.3,719 L190,728 L187,730.5 L185,724 L180,722 L176,720 Z M179,716 L179,722"/>
<!-- plate 390 -->
<path d="M76.2,667.2 L78.8,666.3 L110.4,695.3 L117.5,700.6 L168.4,725.2 L172,727 L175.5,748.1 L178.1,760.4 L175.5,765.6 L170.2,766.5 L117.5,739.3 L108.7,730.5 L77.9,705.9 L75.3,700.6 L75.3,670.7 Z"/>
<path d="M77,669.8 L112.2,698.8 L118.3,703.2 L170.2,729.6 L173.7,751.6 L175.5,763.9"/>
<ellipse cx="84" cy="680.4" rx="2.6" ry="4.4"/>
<ellipse cx="84" cy="700.6" rx="2.6" ry="4.4"/>
<ellipse cx="157.4" cy="728.2" rx="3" ry="4"/>
<ellipse cx="157.9" cy="749.3" rx="3.3" ry="4.8"/>
<path d="M113.1,706.7 L113.1,728.7"/>
<circle cx="78.8" cy="675" r="0.6"/><circle cx="78.8" cy="701.5" r="0.6"/><circle cx="92" cy="700.6" r="0.6"/><circle cx="145.6" cy="735.8" r="0.6"/><circle cx="166.7" cy="733.1" r="0.6"/><circle cx="166.7" cy="760.4" r="0.6"/>

</g>
<g font-family="Liberation Sans" font-size="18" fill="#0a0a1e" stroke="#0a0a1e" stroke-width="0.45">
<text x="671.25" y="187.40" textLength="27.6" lengthAdjust="spacingAndGlyphs">130</text>
<text x="715.50" y="180.40" textLength="27.6" lengthAdjust="spacingAndGlyphs">110</text>
<text x="655.00" y="219.15" textLength="18.4" lengthAdjust="spacingAndGlyphs">62</text>
<text x="700.50" y="230.40" textLength="27.6" lengthAdjust="spacingAndGlyphs">120</text>
<text x="658.75" y="279.90" textLength="18.4" lengthAdjust="spacingAndGlyphs">65</text>
<text x="638.75" y="292.90" textLength="18.4" lengthAdjust="spacingAndGlyphs">67</text>
<text x="724.25" y="289.65" textLength="27.6" lengthAdjust="spacingAndGlyphs">125</text>
<text x="671.25" y="307.15" textLength="18.4" lengthAdjust="spacingAndGlyphs">75</text>
<text x="808.25" y="274.65" textLength="27.6" lengthAdjust="spacingAndGlyphs">100</text>
<text x="898.75" y="267.15" textLength="27.6" lengthAdjust="spacingAndGlyphs">350</text>
<text x="879.50" y="427.90" textLength="18.4" lengthAdjust="spacingAndGlyphs">60</text>
<text x="865.75" y="518.65" textLength="27.6" lengthAdjust="spacingAndGlyphs">345</text>
<text x="865.00" y="565.40" textLength="27.6" lengthAdjust="spacingAndGlyphs">310</text>
<text x="876.25" y="596.15" textLength="27.6" lengthAdjust="spacingAndGlyphs">320</text>
<text x="867.50" y="626.15" textLength="27.6" lengthAdjust="spacingAndGlyphs">330</text>
<text x="866.75" y="647.90" textLength="27.6" lengthAdjust="spacingAndGlyphs">340</text>
<text x="808.00" y="673.40" textLength="27.6" lengthAdjust="spacingAndGlyphs">370</text>
<text x="850.00" y="694.15" textLength="27.6" lengthAdjust="spacingAndGlyphs">385</text>
<text x="882.50" y="719.15" textLength="27.6" lengthAdjust="spacingAndGlyphs">380</text>
<text x="711.75" y="697.90" textLength="18.4" lengthAdjust="spacingAndGlyphs">15</text>
<text x="697.50" y="525.40" textLength="18.4" lengthAdjust="spacingAndGlyphs">17</text>
<text x="575.75" y="702.40" textLength="18.4" lengthAdjust="spacingAndGlyphs">20</text>
<text x="632.00" y="692.90" textLength="18.4" lengthAdjust="spacingAndGlyphs">18</text>
<text x="546.00" y="742.90" textLength="18.4" lengthAdjust="spacingAndGlyphs">40</text>
<text x="648.50" y="767.15" textLength="27.6" lengthAdjust="spacingAndGlyphs">237</text>
<text x="204.75" y="756.65" textLength="18.4" lengthAdjust="spacingAndGlyphs">90</text>
<text x="278.00" y="751.65" textLength="18.4" lengthAdjust="spacingAndGlyphs">35</text>
<text x="271.75" y="673.40" textLength="18.4" lengthAdjust="spacingAndGlyphs">44</text>
<text x="153.00" y="789.15" textLength="27.6" lengthAdjust="spacingAndGlyphs">390</text>
<text x="101.00" y="807.90" textLength="27.6" lengthAdjust="spacingAndGlyphs">395</text>
<text x="194.75" y="831.15" textLength="27.6" lengthAdjust="spacingAndGlyphs">270</text>
<text x="300.25" y="478.40" textLength="18.4" lengthAdjust="spacingAndGlyphs">85</text>
<text x="350.25" y="509.65" textLength="27.6" lengthAdjust="spacingAndGlyphs">190</text>
<text x="394.00" y="575.90" textLength="27.6" lengthAdjust="spacingAndGlyphs">306</text>
<text x="246.00" y="613.65" textLength="18.4" lengthAdjust="spacingAndGlyphs">42</text>
<text x="324.50" y="626.65" textLength="18.4" lengthAdjust="spacingAndGlyphs">50</text>
<text x="407.75" y="344.90" textLength="27.6" lengthAdjust="spacingAndGlyphs">200</text>
<text x="236.00" y="391.65" textLength="27.6" lengthAdjust="spacingAndGlyphs">260</text>
<text x="240.25" y="446.65" textLength="27.6" lengthAdjust="spacingAndGlyphs">265</text>
<text x="471.50" y="496.65" textLength="18.4" lengthAdjust="spacingAndGlyphs">10</text>
<text x="539.00" y="445.40" textLength="27.6" lengthAdjust="spacingAndGlyphs">170</text>
<text x="539.75" y="478.65" textLength="27.6" lengthAdjust="spacingAndGlyphs">160</text>
<text x="409.00" y="670.90" textLength="18.4" lengthAdjust="spacingAndGlyphs">58</text>
<text x="347.00" y="699.65" textLength="18.4" lengthAdjust="spacingAndGlyphs">57</text>
<text x="326.00" y="712.15" textLength="18.4" lengthAdjust="spacingAndGlyphs">55</text>
<text x="427.00" y="710.90" textLength="18.4" lengthAdjust="spacingAndGlyphs">30</text>
<text x="419.00" y="806.90" textLength="27.6" lengthAdjust="spacingAndGlyphs">230</text>
<text x="547.50" y="327.90" textLength="18.4" lengthAdjust="spacingAndGlyphs">70</text>
</g>
</svg>
</body></html>
